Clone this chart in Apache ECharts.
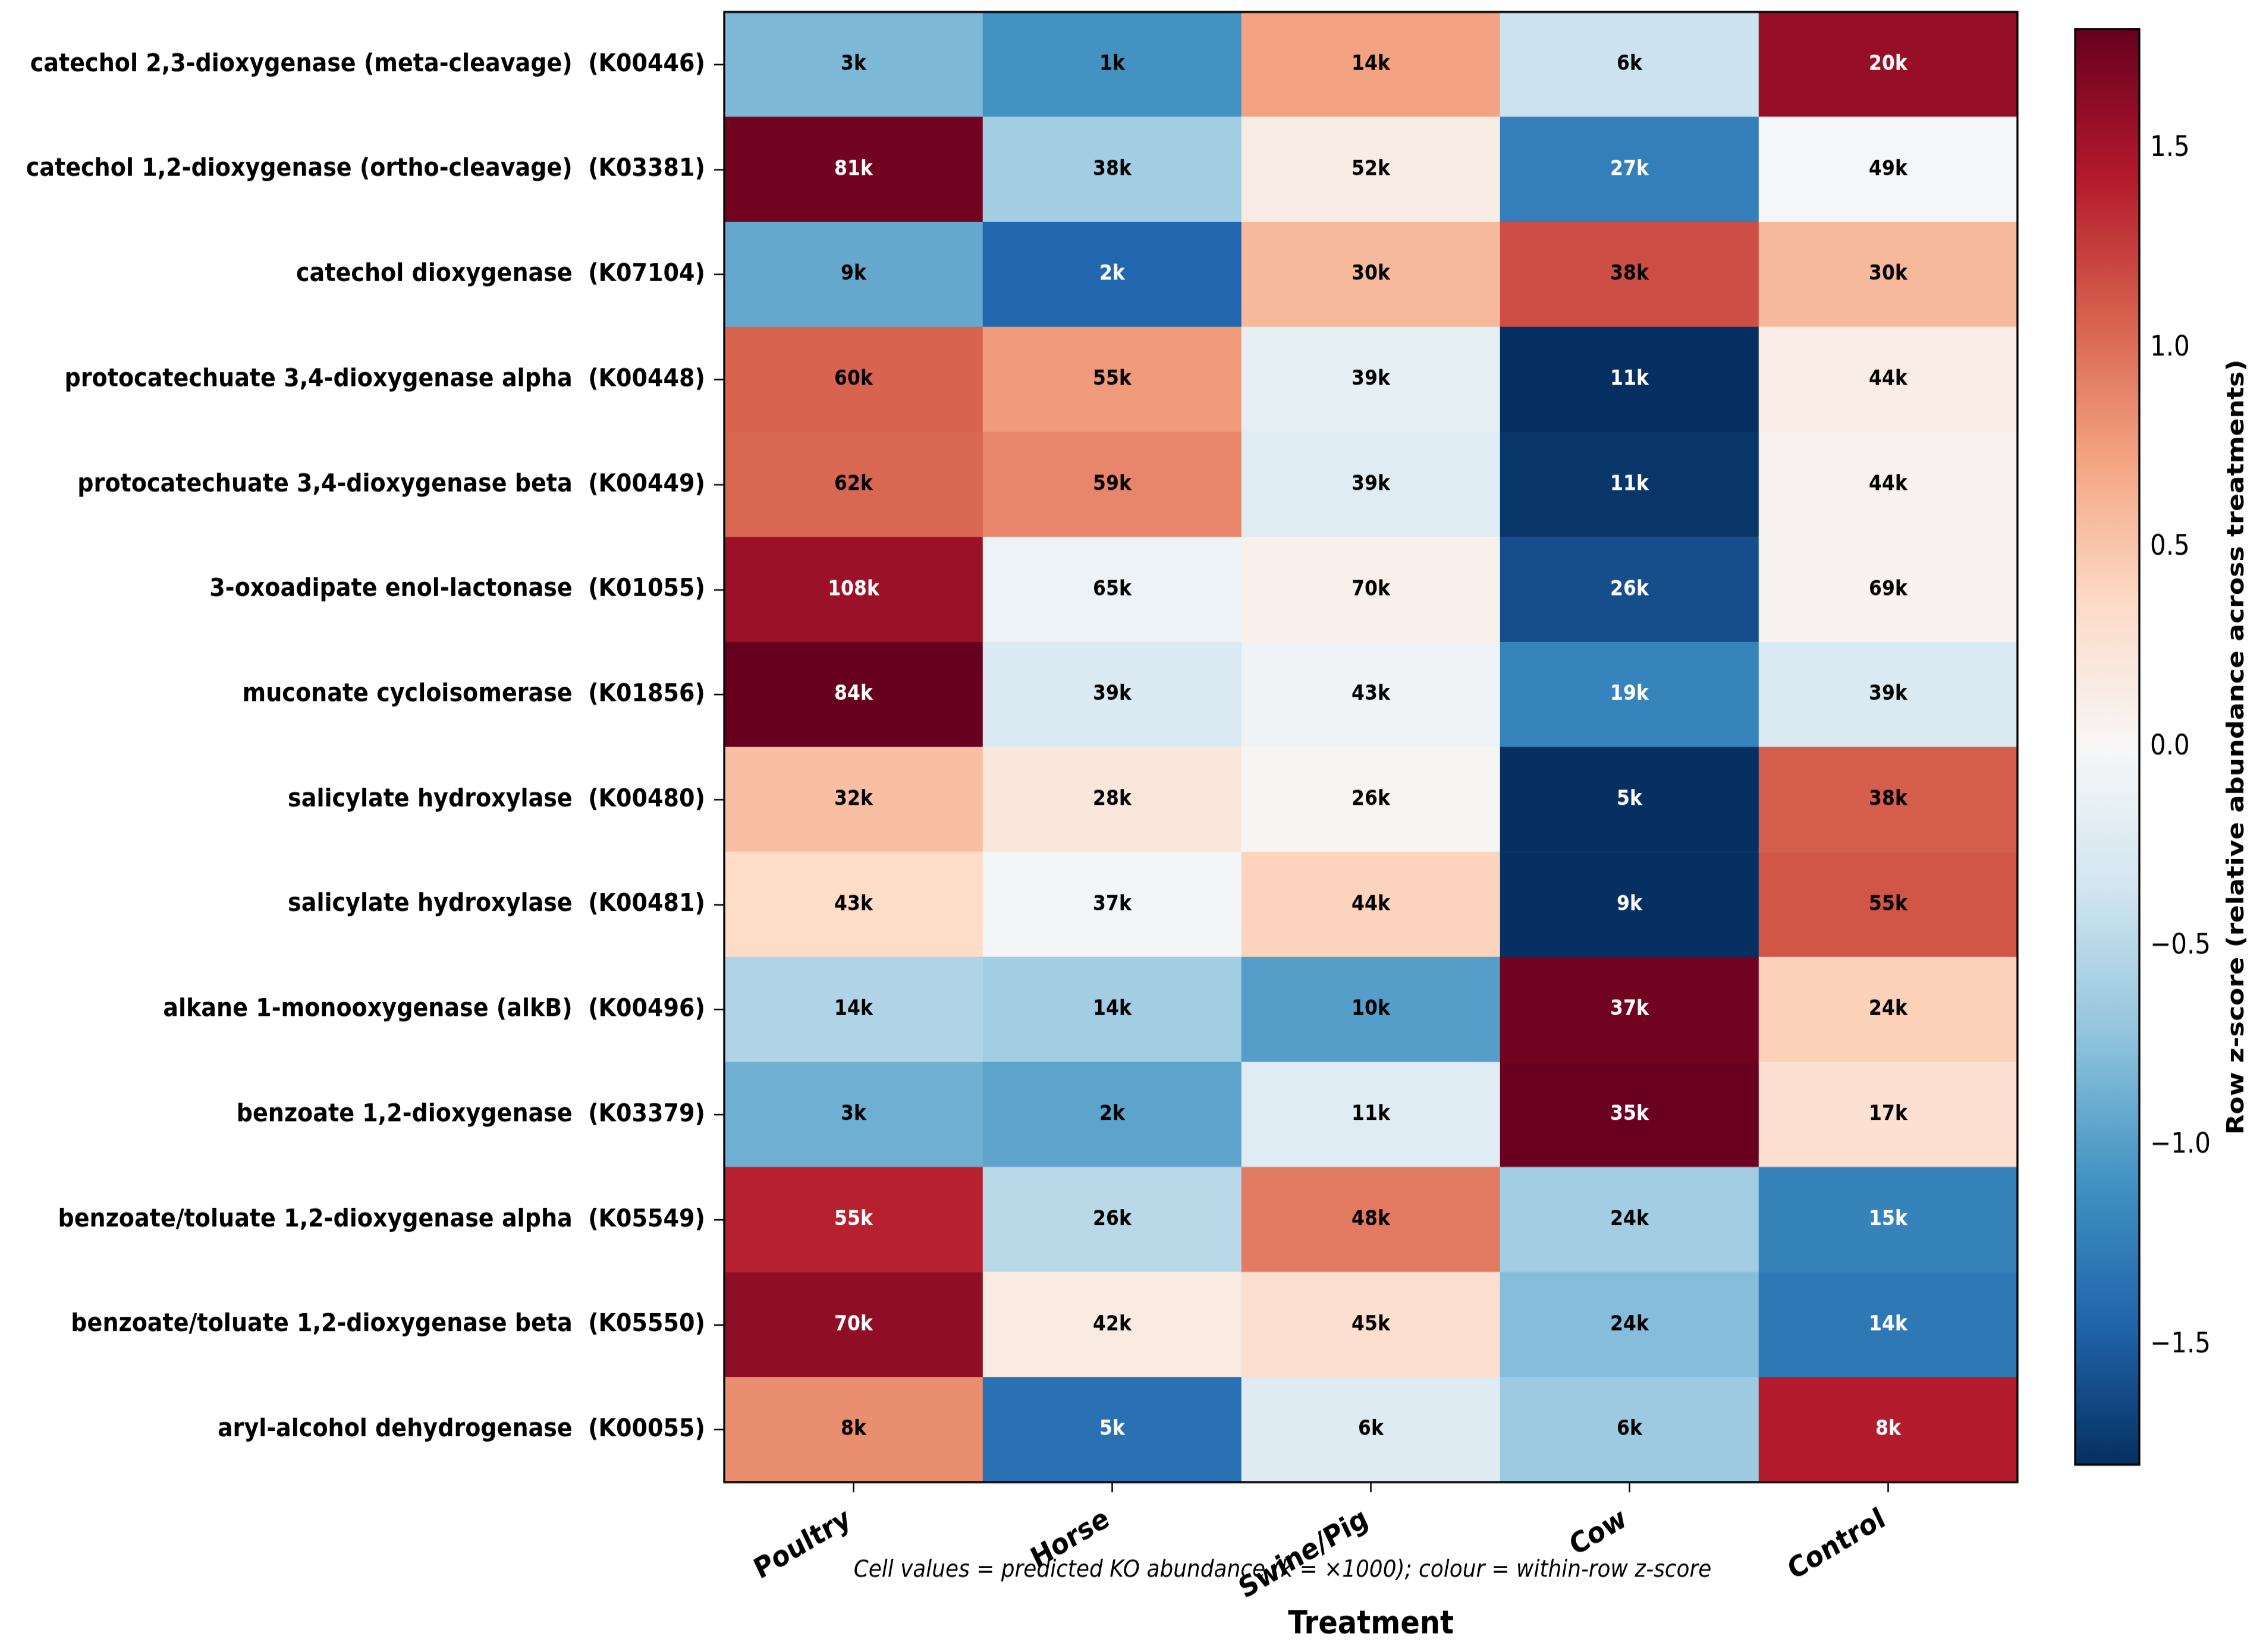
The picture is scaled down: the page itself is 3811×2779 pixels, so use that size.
<!DOCTYPE html>
<html>
<head>
<meta charset="utf-8">
<title>KO abundance heatmap</title>
<script src="https://cdn.jsdelivr.net/npm/echarts@6/dist/echarts.min.js"></script>
<style>
  html, body { margin: 0; padding: 0; background: #ffffff; }
  #wrap { width: 3811px; height: 2779px; overflow: hidden; background: #ffffff; }
  /* the figure is a bit taller than it was drawn, so the chart is drawn at 2481px and stretched */
  #chart { width: 3811px; height: 2481px; transform: scaleY(1.12011); transform-origin: 0 0; }
</style>
</head>
<body>
<div id="wrap"><div id="chart"></div></div>
<script>
// rows, top to bottom
const rowLabels = [
  'catechol 2,3-dioxygenase (meta-cleavage)  (K00446)',
  'catechol 1,2-dioxygenase (ortho-cleavage)  (K03381)',
  'catechol dioxygenase  (K07104)',
  'protocatechuate 3,4-dioxygenase alpha  (K00448)',
  'protocatechuate 3,4-dioxygenase beta  (K00449)',
  '3-oxoadipate enol-lactonase  (K01055)',
  'muconate cycloisomerase  (K01856)',
  'salicylate hydroxylase  (K00480)',
  'salicylate hydroxylase  (K00481)',
  'alkane 1-monooxygenase (alkB)  (K00496)',
  'benzoate 1,2-dioxygenase  (K03379)',
  'benzoate/toluate 1,2-dioxygenase alpha  (K05549)',
  'benzoate/toluate 1,2-dioxygenase beta  (K05550)',
  'aryl-alcohol dehydrogenase  (K00055)'
]
const treatments = ['Poultry', 'Horse', 'Swine/Pig', 'Cow', 'Control']

// predicted KO abundance, in thousands (cell text)
const poultryK = [3, 81, 9, 60, 62, 108, 84, 32, 43, 14, 3, 55, 70, 8]
const horseK   = [1, 38, 2, 55, 59, 65, 39, 28, 37, 14, 2, 26, 42, 5]
const swineK   = [14, 52, 30, 39, 39, 70, 43, 26, 44, 10, 11, 48, 45, 6]
const cowK     = [6, 27, 38, 11, 11, 26, 19, 5, 9, 37, 35, 24, 24, 6]
const controlK = [20, 49, 30, 44, 44, 69, 39, 38, 55, 24, 17, 15, 14, 8]

// within-row z-score (cell colour)
const poultryZ = [-0.81, 1.75, -0.93, 1.06, 1.04, 1.55, 1.84, 0.55, 0.35, -0.55, -0.88, 1.40, 1.61, 0.84]
const horseZ   = [-1.09, -0.63, -1.43, 0.77, 0.88, -0.10, -0.27, 0.20, -0.04, -0.63, -0.96, -0.50, 0.16, -1.35]
const swineZ   = [0.73, 0.14, 0.59, -0.16, -0.22, 0.09, -0.08, 0.02, 0.41, -1.00, -0.22, 0.94, 0.31, -0.24]
const cowZ     = [-0.39, -1.24, 1.17, -1.80, -1.76, -1.60, -1.21, -1.86, -1.85, 1.76, 1.78, -0.63, -0.78, -0.66]
const controlZ = [1.57, -0.02, 0.59, 0.13, 0.05, 0.05, -0.27, 1.09, 1.13, 0.43, 0.28, -1.22, -1.30, 1.42]

const colorbarTicks = [-1.5, -1.0, -0.5, 0.0, 0.5, 1.0, 1.5]

// RdBu_r
const rdbuR = ['#053061', '#2166ac', '#4393c3', '#92c5de', '#d1e5f0', '#f7f7f7',
               '#fddbc7', '#f4a582', '#d6604d', '#b2182b', '#67001f']

const FONT = 'DejaVu Sans'
// layout in the unstretched (2481px tall) drawing
const GRID = { left: 1218, top: 17.9, width: 2175, height: 2208 }
const CBAR = { left: 3490, top: 43.7, width: 108, height: 2156 }

const abundCols = [poultryK, horseK, swineK, cowK, controlK]
const zCols = [poultryZ, horseZ, swineZ, cowZ, controlZ]

let cells = []
for (let c = 0; c < treatments.length; c++) {
  for (let r = 0; r < rowLabels.length; r++) {
    let z = zCols[c][r]
    cells.push({
      value: [c, r, z, abundCols[c][r]],
      label: { color: Math.abs(z) > 1.2 ? '#ffffff' : '#000000' }
    })
  }
}

const fmtTick = v => (v < 0 ? '\u2212' : '') + Math.abs(v).toFixed(1)

let chart = echarts.init(document.getElementById('chart'), null, { renderer: 'canvas' })

let option = {
  backgroundColor: '#ffffff',
  animation: false,
  textStyle: { fontFamily: FONT },
  title: {
    text: 'Cell values = predicted KO abundance (k = \u00d71000); colour = within-row z-score',
    left: 2157,
    top: 2341,
    textAlign: 'center',
    padding: 0,
    textStyle: { fontFamily: FONT, fontSize: 35.9, fontStyle: 'italic', fontWeight: 'normal', color: '#000' }
  },
  grid: [
    { left: GRID.left, top: GRID.top, width: GRID.width, height: GRID.height },
    { left: CBAR.left, top: CBAR.top, width: CBAR.width, height: CBAR.height }
  ],
  xAxis: [
    {
      type: 'category',
      gridIndex: 0,
      data: treatments,
      name: 'Treatment',
      nameLocation: 'middle',
      nameGap: 188,
      nameTextStyle: { fontFamily: FONT, fontSize: 48, fontWeight: 'bold', color: '#000' },
      axisLine: { show: false },
      axisTick: { show: true, alignWithLabel: true, length: 15.2, lineStyle: { color: '#000', width: 2.5 } },
      axisLabel: {
        rotate: 28, margin: 50, padding: [0, 8, 0, 0],
        fontFamily: FONT, fontSize: 43, fontWeight: 'bold', color: '#000'
      },
      splitLine: { show: false }
    },
    { type: 'value', gridIndex: 1, show: false, min: 0, max: 1 }
  ],
  yAxis: [
    {
      type: 'category',
      gridIndex: 0,
      data: rowLabels,
      inverse: true,
      axisLine: { show: false },
      axisTick: { show: true, alignWithLabel: true, length: 17, lineStyle: { color: '#000', width: 2.3 } },
      axisLabel: { margin: 32, fontFamily: FONT, fontSize: 38.1, fontWeight: 'bold', color: '#000' },
      splitLine: { show: false }
    },
    {
      type: 'value',
      gridIndex: 1,
      position: 'right',
      min: -1.8,
      max: 1.8,
      name: 'Row z-score (relative abundance across treatments)',
      nameLocation: 'middle',
      nameRotate: 90,
      nameGap: 145,
      nameTextStyle: { fontFamily: FONT, fontSize: 39.4, fontWeight: 'bold', color: '#000' },
      axisLine: { show: false },
      axisTick: { show: true, length: 17, customValues: colorbarTicks, lineStyle: { color: '#000', width: 2.3 } },
      axisLabel: { margin: 18, fontFamily: FONT, fontSize: 42, color: '#000', customValues: colorbarTicks, formatter: fmtTick },
      splitLine: { show: false }
    }
  ],
  visualMap: {
    type: 'continuous',
    seriesIndex: 0,
    dimension: 2,
    min: -1.8,
    max: 1.8,
    orient: 'vertical',
    left: CBAR.left,
    top: CBAR.top,
    itemWidth: CBAR.width,
    itemHeight: CBAR.height,
    padding: 0,
    calculable: false,
    hoverLink: false,
    text: null,
    inRange: { color: rdbuR }
  },
  series: [
    {
      type: 'heatmap',
      xAxisIndex: 0,
      yAxisIndex: 0,
      data: cells,
      label: {
        show: true,
        fontFamily: FONT,
        fontSize: 31.5,
        fontWeight: 'bold',
        formatter: p => p.value[3] + 'k'
      },
      itemStyle: { borderWidth: 0 },
      emphasis: { disabled: true }
    }
  ],
  graphic: [
    {
      type: 'rect',
      z: 100,
      silent: true,
      shape: { x: GRID.left, y: GRID.top, width: GRID.width, height: GRID.height },
      style: { fill: 'none', stroke: '#000', lineWidth: 3.3 }
    },
    {
      type: 'rect',
      z: 100,
      silent: true,
      shape: { x: CBAR.left, y: CBAR.top, width: CBAR.width, height: CBAR.height },
      style: { fill: 'none', stroke: '#000', lineWidth: 3.3 }
    }
  ]
}

chart.setOption(option)
</script>
</body>
</html>
